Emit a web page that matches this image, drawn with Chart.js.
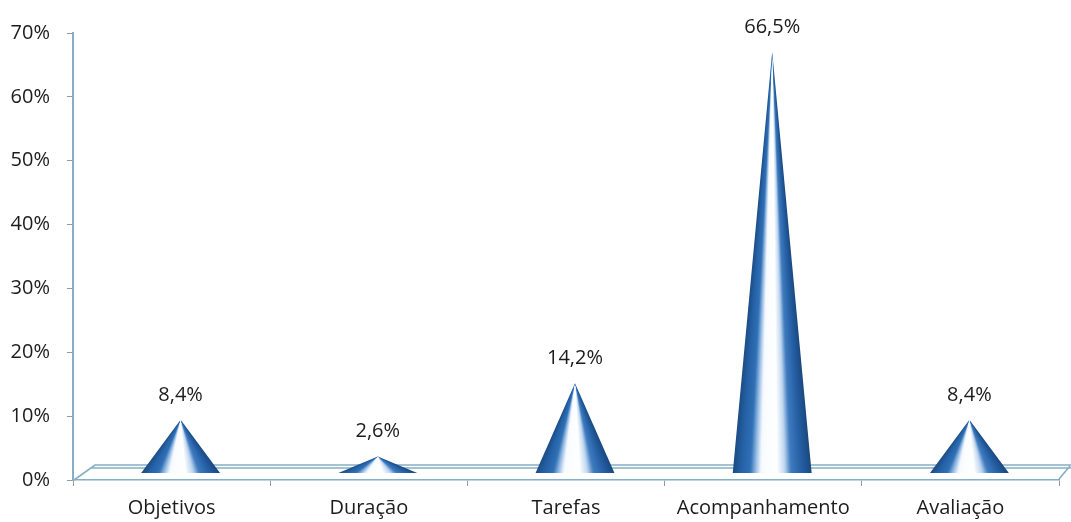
<!DOCTYPE html>
<html>
<head>
<meta charset="utf-8">
<script src="https://cdn.jsdelivr.net/npm/chart.js@4/dist/chart.umd.min.js"></script>
<style>
  html, body { margin: 0; padding: 0; background: #ffffff; }
  #wrap { width: 1071px; height: 522px; position: relative; }
</style>
</head>
<body>
<div id="wrap"><canvas id="chart" width="1071" height="522"></canvas></div>
<script>
// Categories and shares (percent)
const categories = ['Objetivos', 'Duração', 'Tarefas', 'Acompanhamento', 'Avaliação'];
const shares = [8.4, 2.6, 14.2, 66.5, 8.4];
const yTicks = [0, 10, 20, 30, 40, 50, 60, 70];

// Shading across the pyramid base, left to right
const shadeStops = [
  [0.00, [28, 76, 132]],
  [0.10, [36, 96, 164]],
  [0.22, [48, 112, 182]],
  [0.29, [150, 188, 228]],
  [0.36, [248, 251, 255]],
  [0.56, [255, 255, 255]],
  [0.66, [190, 214, 240]],
  [0.74, [62, 122, 190]],
  [0.88, [36, 94, 162]],
  [1.00, [26, 72, 126]]
];

function shadeAt(t) {
  for (let i = 1; i < shadeStops.length; i++) {
    const [t1, c1] = shadeStops[i];
    const [t0, c0] = shadeStops[i - 1];
    if (t <= t1) {
      const k = (t - t0) / (t1 - t0);
      const c = c0.map((v, j) => Math.round(v + (c1[j] - v) * k));
      return `rgb(${c[0]},${c[1]},${c[2]})`;
    }
  }
  const c = shadeStops[shadeStops.length - 1][1];
  return `rgb(${c[0]},${c[1]},${c[2]})`;
}

const FONT = '"Open Sans", "Noto Sans", sans-serif';
const TEXT = '#1c1c1c';
const DEPTH_DX = 9;      // horizontal shift of the series plane behind the front axis
const LINE = '#86aec4';

// Floor slab of the 3-D plot
const floorPlugin = {
  id: 'floor',
  beforeDatasetsDraw(chart) {
    const { ctx, chartArea: a } = chart;
    const yFront = chart.scales.y.getPixelForValue(0);
    const yBack = yFront - 15;
    ctx.save();
    ctx.strokeStyle = LINE;
    ctx.lineWidth = 1.6;
    ctx.beginPath();
    ctx.moveTo(a.left + 1, yFront);
    ctx.lineTo(a.left + 22, yBack);
    ctx.lineTo(chart.width, yBack);
    ctx.moveTo(a.left + 18, yBack + 3);
    ctx.lineTo(chart.width, yBack + 3);
    ctx.moveTo(a.right, yFront - 1);
    ctx.lineTo(chart.width - 1, yBack + 1);
    ctx.stroke();
    ctx.restore();
  }
};

// Fill style that keeps each face edge dark all the way to the apex
function pyramidFill(ctx, cx, top, base, half) {
  const h = Math.max(base - top, 0.5);
  const aRight = Math.atan2(h, half);
  const aLeft = Math.atan2(h, -half);
  const g = ctx.createConicGradient(aRight, cx, top);
  const span = aLeft - aRight;
  const S = 48;
  // offsets must increase: walk the base from right (t = 1) to left (t = 0)
  for (let k = 0; k <= S; k++) {
    const t = 1 - k / S;
    const x = -half + 2 * half * t;
    const ang = Math.atan2(h, x);
    const off = Math.min(Math.max((ang - aRight) / (2 * Math.PI), 0), 1);
    g.addColorStop(off, shadeAt(t));
  }
  g.addColorStop(Math.min(span / (2 * Math.PI) + 0.001, 1), shadeAt(0));
  return g;
}

// Pyramids and value labels drawn on the bar geometry
const pyramidPlugin = {
  id: 'pyramids',
  afterDatasetsDraw(chart) {
    const { ctx } = chart;
    const meta = chart.getDatasetMeta(0);
    meta.data.forEach((bar, i) => {
      const cx = bar.x + DEPTH_DX;
      const top = bar.y;
      const base = bar.base;
      const half = bar.width / 2;
      ctx.save();
      ctx.beginPath();
      ctx.moveTo(cx, top);
      ctx.lineTo(cx - half, base);
      ctx.lineTo(cx + half, base);
      ctx.closePath();
      ctx.fillStyle = pyramidFill(ctx, cx, top, base, half);
      ctx.fill();
      ctx.restore();

      const v = chart.data.datasets[0].data[i];
      ctx.save();
      ctx.font = '20px ' + FONT;
      ctx.fillStyle = TEXT;
      ctx.textAlign = 'center';
      ctx.textBaseline = 'middle';
      ctx.fillText(v.toFixed(1).replace('.', ',') + '%', cx, top - 25);
      ctx.restore();
    });
  }
};

new Chart(document.getElementById('chart'), {
  type: 'bar',
  data: {
    labels: categories,
    datasets: [{
      data: shares,
      yAxisID: 'depth',
      backgroundColor: 'rgba(0,0,0,0)',
      borderWidth: 0,
      barPercentage: 0.4,
      categoryPercentage: 1.0
    }]
  },
  options: {
    responsive: false,
    animation: false,
    devicePixelRatio: 1,
    layout: { padding: { top: 33, right: 12, left: 0, bottom: 0 } },
    plugins: { legend: { display: false }, tooltip: { enabled: false } },
    scales: {
      x: {
        grid: { display: true, drawOnChartArea: false, tickLength: 6, color: '#9a9a9a', offset: true },
        border: { display: true, color: LINE, width: 1.6 },
        ticks: { font: { family: FONT, size: 20 }, color: TEXT, padding: 10 },
        afterFit(s) { s.height = 42; }
      },
      y: {
        min: 0, max: 70,
        afterBuildTicks(s) { s.ticks = yTicks.map(v => ({ value: v })); },
        grid: { display: true, drawOnChartArea: false, tickLength: 6, color: '#9a9a9a' },
        border: { display: true, color: LINE, width: 2 },
        ticks: { font: { family: FONT, size: 20 }, color: TEXT, padding: 17, callback: v => v + '%' },
        afterFit(s) { s.width = 73; }
      },
      depth: {
        display: false,
        min: -1.1, max: 69.5
      }
    }
  },
  plugins: [floorPlugin, pyramidPlugin]
});
</script>
</body>
</html>
